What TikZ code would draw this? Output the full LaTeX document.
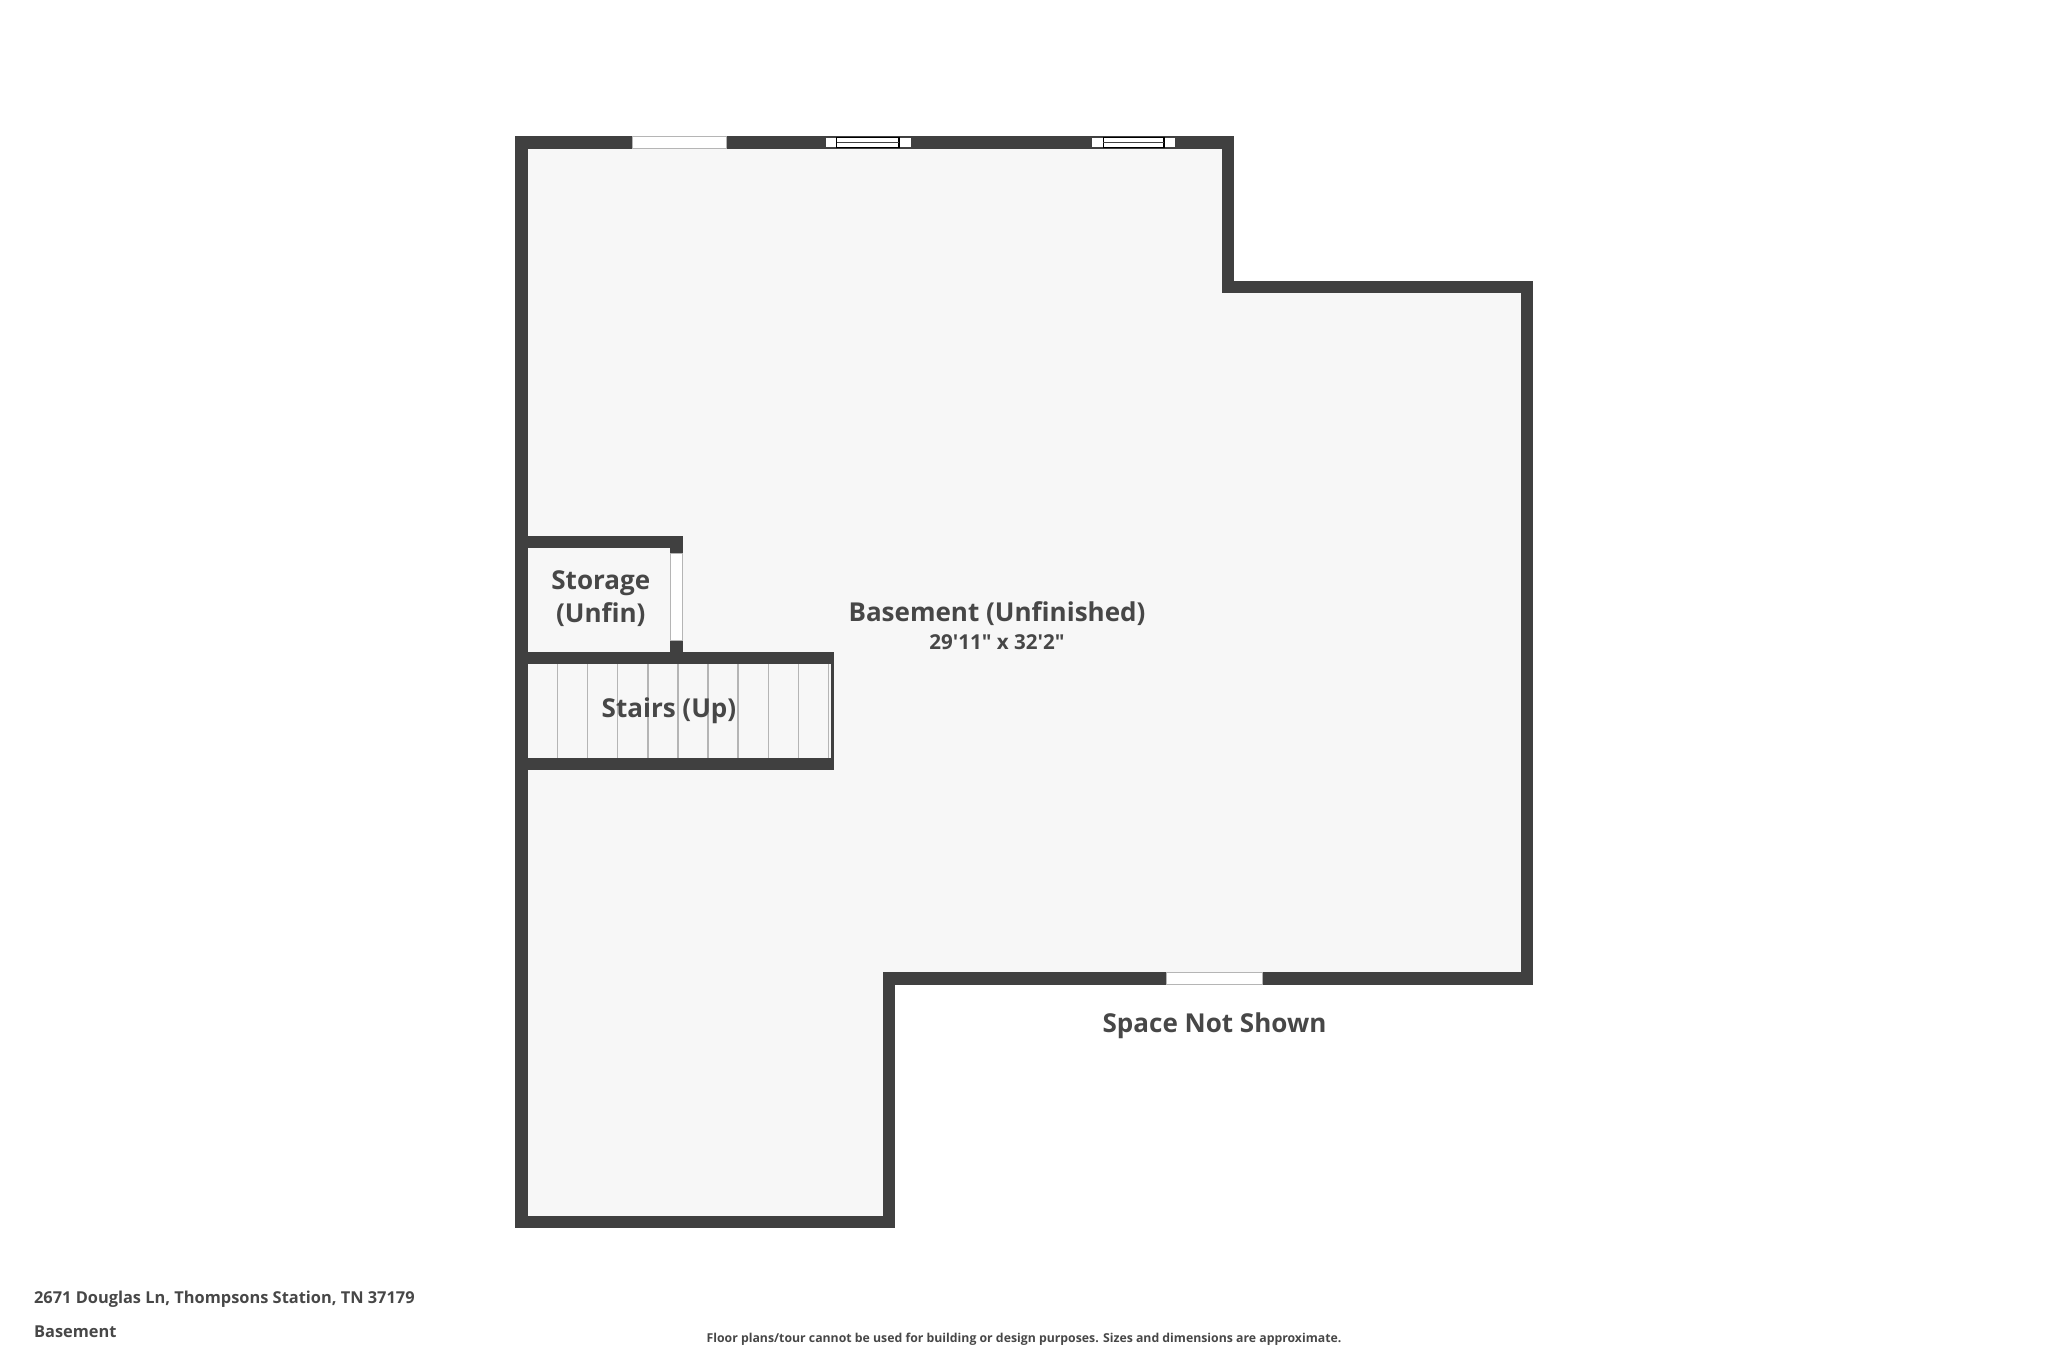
\documentclass[tikz,border=0pt]{standalone}
\usepackage{fontspec}
\setmainfont{Open Sans}
\newfontfamily\straightfont{Open Sans}
\usepackage{xcolor}
\definecolor{wallgray}{HTML}{404040}
\definecolor{floorgray}{HTML}{F7F7F7}
\definecolor{textgray}{HTML}{474747}
\definecolor{edgegray}{HTML}{B5B5B5}
\usetikzlibrary{positioning,calc}

\begin{document}
\begin{tikzpicture}[
    x=0.01cm, y=-0.01cm,
    wall/.style={draw=wallgray, line width=0.124cm, miter limit=10},
    opening/.style={rectangle, draw=edgegray, fill=white, line width=0.01cm, inner sep=0pt, outer sep=0pt},
    sash/.style={draw=wallgray, line width=0.012cm},
    tread/.style={draw=edgegray, line width=0.013cm},
    roomlabel/.style={align=center, inner sep=0pt, text=textgray, font=\fontsize{7.4}{9.35}\selectfont\bfseries},
    sizelabel/.style={inner sep=0pt, text=textgray, font=\fontsize{5.85}{6.4}\selectfont\straightfont\bfseries},
    titlelabel/.style={inner sep=0pt, text=textgray, font=\fontsize{4.66}{6}\selectfont\bfseries},
    footlabel/.style={inner sep=0pt, text=textgray, font=\fontsize{3.49}{4}\selectfont\bfseries}
]
\useasboundingbox (0,0) rectangle (2048,1365);

% Outer walls
\draw[wall, fill=floorgray] (521.5,142.6) -- (1228.2,142.6) -- (1228.2,286.8) -- (1526.7,286.8)
    -- (1526.7,978.5) -- (889,978.5) -- (889,1222) -- (521.5,1222) -- cycle;

% Stair treads
\foreach \i in {0,...,9}
    \draw[tread] ({557.7+30.07*\i},664) -- ({557.7+30.07*\i},758);

% Storage and stairs walls
\draw[wall] (521.5,542) -- (676.5,542) -- (676.5,658);
\draw[wall] (521.5,658) -- (831.8,658);
\draw[wall] (521.5,764) -- (831.8,764);
\fill[wallgray] (830.7,652.3) rectangle (833.7,770);

% Doors
\node[opening, minimum width=0.94cm, minimum height=0.124cm] (doorTop) at (679.4,142.6) {};
\node[opening, minimum width=0.964cm, minimum height=0.124cm] (doorSouth) at (1214.5,978.5) {};
\node[opening, minimum width=0.124cm, minimum height=0.874cm] (doorStorage) at (676.5,597) {};

% Windows
\foreach \wa/\wb/\wc/\wd in {825/836.7/899/911, 1091.9/1103.3/1164/1175.2} {
    \draw[opening, draw=wallgray] (\wa,137.5) rectangle (\wd,147.6);
    \draw[sash, draw=black] (\wb,137.5) rectangle (\wc,147.6);
    \draw[sash] (\wb,142.7) -- (\wc,142.7);
}

% Labels
\node[roomlabel] (basement) at (997,613.6) {Basement (Unfinished)};
\node[sizelabel] (basementSize) at (997,642.2) {29'11" x 32'2"};
\node[roomlabel] (storage) at (600.8,598.6) {Storage\\(Unfin)};
\node[roomlabel] (stairs) at (669,710.6) {Stairs (Up)};
\node[roomlabel] (notShown) at (1214.5,1025.6) {Space Not Shown};

% Footer
\node[titlelabel, anchor=west] (address) at (33.4,1299.6) {2671 Douglas Ln, Thompsons Station, TN 37179};
\node[titlelabel, anchor=west] (floorName) at (33.4,1331.5) {Basement};
\node[footlabel] (disclaimer) at (1024,1339.3) {Floor plans/tour cannot be used for building or design purposes. Sizes and dimensions are approximate.};

\end{tikzpicture}
\end{document}
